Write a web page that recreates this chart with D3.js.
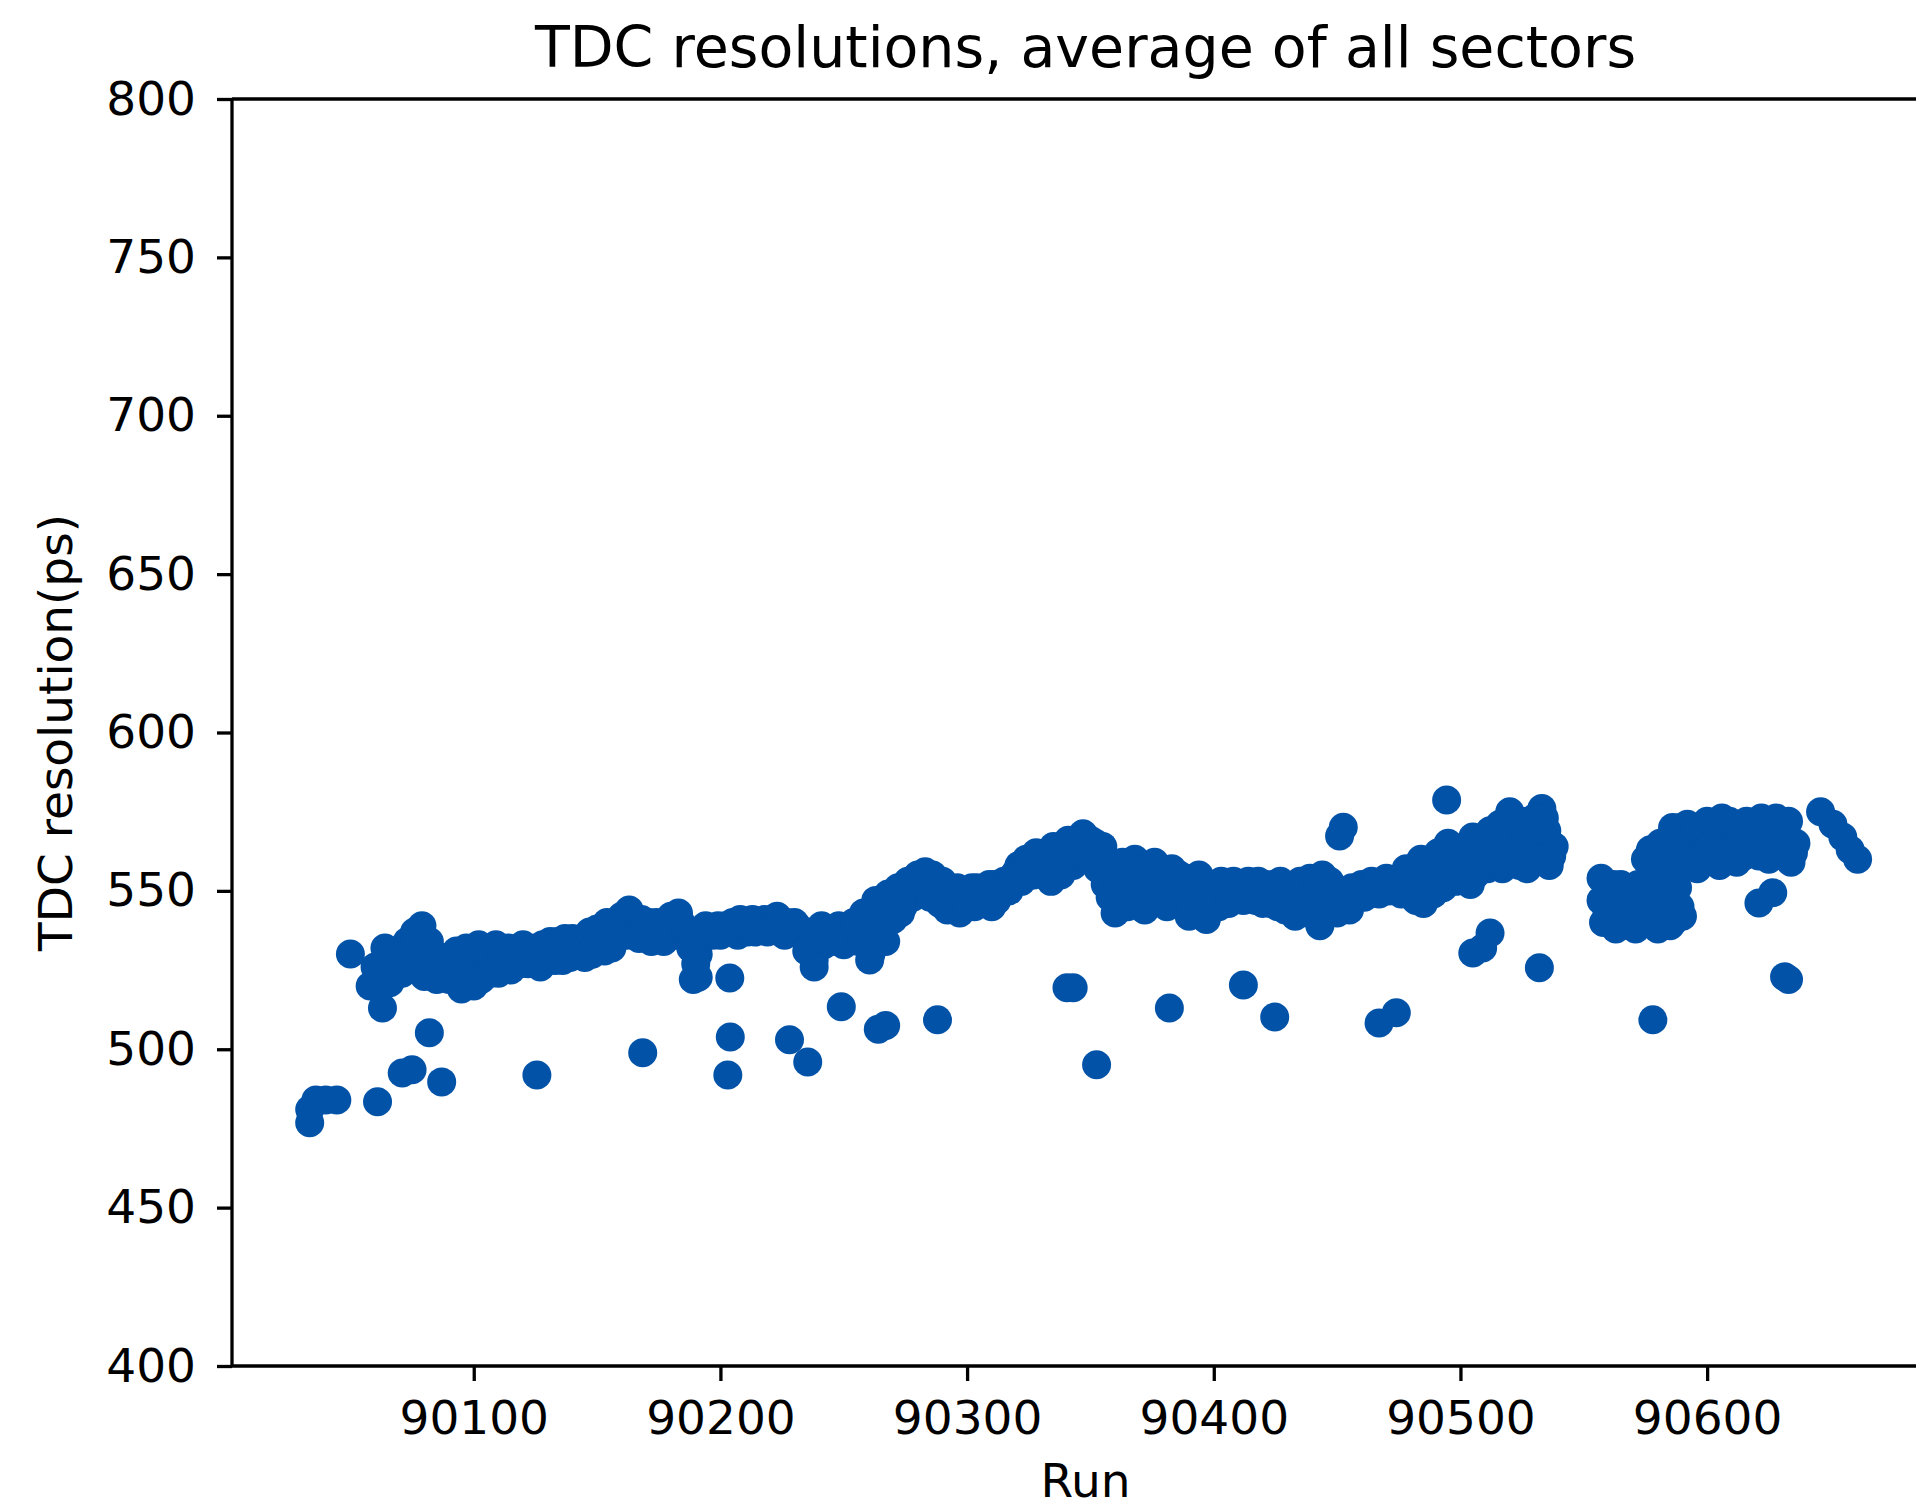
<!DOCTYPE html>
<html>
<head>
<meta charset="utf-8">
<script src="https://cdn.jsdelivr.net/npm/d3@7"></script>
<style>
  html, body { margin: 0; padding: 0; background: #fff; }
  svg { display: block; }
  text { font-family: "DejaVu Sans", sans-serif; fill: #000; }
</style>
</head>
<body>
<script>
// ---- data ----
const titleText = "TDC resolutions, average of all sectors";
const xLabelText = "Run";
const yLabelText = "TDC resolution(ps)";
const xTicks = [90100, 90200, 90300, 90400, 90500, 90600];
const yTicks = [400, 450, 500, 550, 600, 650, 700, 750, 800];
const xLimits = [90002, 90694];
const yLimits = [400, 800];

// main band (run, resolution)
const bandRuns = [
90058,90060,90063,90064,90066,90068,90069,90071,90073,90074,90076,90078,90079,90080,90082,90084,90085,90087,90089,90090,
90092,90093,90095,90097,90098,90100,90102,90104,90106,90109,90110,90112,90114,90116,90118,90120,90122,90124,90126,90128,
90130,90132,90134,90136,90138,90140,90142,90144,90146,90148,90150,90152,90154,90156,90158,90160,90162,90163,90165,90167,
90168,90170,90172,90174,90176,90178,90180,90182,90183,90185,90187,90189,90191,90193,90195,90197,90199,90201,90203,90205,
90207,90209,90211,90213,90215,90217,90219,90221,90223,90225,90227,90229,90231,90233,90236,90238,90240,90242,90244,90246,
90248,90250,90252,90254,90256,90258,90260,90261,90263,90264,90266,90267,90268,90270,90272,90274,90276,90278,90280,90281,
90283,90285,90287,90289,90291,90292,90294,90296,90297,90299,90301,90303,90304,90306,90308,90310,90311,90313,90315,90317,
90319,90321,90322,90324,90326,90328,90330,90332,90334,90335,90337,90339,90341,90343,90345,90347,90348,90350,90351,90353,
90355,90356,90358,90359,90360,90362,90363,90365,90366,90368,90369,90371,90372,90374,90376,90377,90379,90381,90383,90385,
90387,90389,90390,90392,90394,90396,90397,90399,90401,90403,90405,90407,90409,90411,90413,90415,90417,90419,90421,90423,
90425,90427,90429,90431,90433,90435,90437,90439,90441,90443,90444,90446,90448,90450,90452,90454,90456,90458,90460,90462,
90464,90466,90468,90470,90472,90474,90476,90478,90480,90482,90484,90485,90487,90489,90491,90493,90495,90497,90498,90500,
90502,90504,90505,90507,90509,90511,90512,90514,90516,90517,90519,90520,90522,90524,90525,90527,90529,90531,90533,90534,
90535,90536,90538
];
const bandValues = [
520,526,513,532,521,528,531,524,534,529,537,526,539,523,534,530,522,527,529,522,
525,531,519,532,526,520,533,527,530,533,524,529,532,526,530,533,527,531,529,533,
528,531,534,528,532,535,530,533,536,530,538,533,540,532,537,542,536,544,539,535,
541,537,534,540,536,539,542,536,543,538,535,522,530,537,538,536,539,537,538,540,
536,539,537,541,538,540,537,541,542,538,540,537,539,536,534,528,538,533,537,535,
539,533,537,540,534,543,536,530,547,538,544,534,549,541,551,545,553,548,555,550,
556,548,553,546,550,544,548,551,543,547,549,545,551,547,550,545,552,549,553,550,
555,558,553,560,555,562,556,559,553,564,557,561,566,558,564,568,560,566,562,557,
564,552,548,556,543,550,559,545,553,560,547,556,544,552,559,547,554,545,557,550,
546,554,542,550,555,545,541,552,547,553,549,551,548,552,549,551,547,550,552,546,
549,553,544,550,542,553,547,554,544,539,555,548,551,543,549,546,551,548,552,550,
553,550,552,554,551,553,549,557,552,547,560,546,555,549,562,551,565,556,553,563,
558,552,567,560,564,557,569,562,571,557,566,575,569,558,572,557,570,567,576,573,
569,558,564
];

// additional runs inside the band (filling its edges)
const fillRuns = [
90067,90070,90077,90081,90086,90091,90096,90099,90103,90107,90111,90115,90119,90121,90125,90127,90131,90133,90137,90139,
90141,90145,90147,90149,90151,90153,90155,90157,90159,90161,90164,90166,90169,90171,90173,90175,90177,90179,90181,90184,
90186,90188,90190,90192,90194,90196,90198,90200,90202,90204,90206,90208,90210,90212,90214,90216,90218,90220,90222,90224,
90226,90228,90230,90232,90234,90235,90237,90239,90241,90243,90245,90247,90249,90251,90253,90255,90257,90259,90262,90265,
90269,90271,90273,90275,90277,90279,90282,90284,90286,90288,90290,90293,90295,90298,90300,90302,90305,90307,90309,90312,
90314,90316,90318,90320,90323,90325,90327,90329,90331,90333,90336,90338,90340,90342,90344,90346,90349,90352,90354,90357,
90361,90364,90367,90370,90373,90375,90378,90380,90382,90384,90386,90388,90391,90393,90395,90398,90400,90402,90404,90406,
90408,90410,90412,90414,90416,90418,90420,90422,90424,90426,90428,90430,90432,90434,90436,90438,90440,90442,90445,90447,
90449,90451,90453,90455,90457,90459,90461,90463,90465,90467,90469,90471,90473,90475,90477,90479,90481,90483,90486,90488,
90490,90492,90494,90496,90499,90501,90503,90506,90508,90510,90513,90515,90518,90521,90523,90526,90528,90530,90532,90537
];
const fillValues = [
531,525,535,528,524,528,523,531,522,524,532,525,527,531,532,526,534,528,535,529,
532,529,537,532,535,531,537,535,539,540,541,536,538,540,536,538,534,541,538,540,
537,532,527,536,539,537,538,536,539,537,538,541,538,540,537,539,541,538,539,540,
536,538,540,538,537,531,537,535,539,536,538,534,537,536,535,538,535,540,543,540,
545,548,543,549,551,552,553,551,555,549,553,547,545,549,545,551,549,546,552,547,
551,552,553,556,557,558,555,559,561,557,560,555,563,561,566,562,564,565,560,558,
554,548,557,551,557,549,556,550,553,546,555,549,546,553,548,544,550,545,551,546,
553,550,547,553,549,553,546,549,552,545,550,547,551,546,550,543,549,552,542,553,
547,545,550,544,549,551,548,551,552,549,551,550,553,551,553,555,550,556,553,558,
554,558,553,560,558,554,561,555,559,566,565,559,568,562,572,566,561,573,560,561
];

// late clusters and tail
const lateRuns = [
90557,90557,90558,90560,90561,90563,90565,90566,90568,90570,90571,90573,90575,90576,90578,90580,90582,90583,90585,90587,90588,90590,
90559,90562,90564,90567,90569,90572,90574,90577,90579,90581,90584,90586,90589,
90575,90578,90580,90582,90584,90586,90588,90590,90592,90594,90596,90598,90600,90602,90604,90606,90608,90610,90612,90614,90616,90618,
90620,90622,90624,90626,90628,90630,90632,90634,90636,
90577,90579,90581,90583,90585,90587,90589,90591,90593,90595,90597,90599,90601,90603,90605,90607,90609,90611,90613,90615,
90617,90619,90621,90623,90625,90627,90629,90631,90633,90635,
90646,90651,90655,90658,90661
];
const lateValues = [
554,547,540,550,543,538,552,546,541,549,538,544,551,540,547,538,543,549,539,546,551,542,
545,552,542,550,545,552,541,545,550,541,546,540,545,
560,558,562,556,565,570,559,568,571,563,557,566,572,560,568,573,563,570,559,566,572,562,
569,573,565,571,573,563,569,559,565,
563,556,565,560,567,563,570,562,567,569,561,569,564,571,558,566,572,564,569,561,
567,571,561,568,560,567,570,566,572,562,
575,571,567,563,560
];

// scattered low / isolated points
const outlierRuns = [
90033.5,90033.5,90036,90040,90044.5,90050,90061,90071,90075,90082,90087,90125.6,90168.5,90191,
90203.8,90204,90203,90228,90235.4,90238,90249,90260.5,90264,90267,90288,90340.5,90343,90352.5,
90382,90412,90424.7,90467,90474,90451,90452.5,90494.4,90505,90509,90512,90532,90578,90621,90626.6,90631.4,90633
];
const outlierValues = [
476.8,481,484,484,484,530.1,483.4,492.5,493.5,505.2,489.7,491.9,498.9,522.7,
522.5,503.9,491.9,503,496,526,513.4,528.2,506.3,507.5,509.3,519.4,519.4,495.1,
513,520.3,510.2,508.3,511.5,567.3,570.1,578.7,530.4,532,536.7,525.7,509.3,546.2,549.4,522.9,522
];

// ---- drawing ----
const W = 1916, H = 1507;
const L = 232, T = 99, B = 1366, R = 1939;
const dotColor = "#0252a8";

const svg = d3.select("body").append("svg").attr("width", W).attr("height", H);
svg.append("rect").attr("width", W).attr("height", H).attr("fill", "#fff");

const x = d3.scaleLinear().domain(xLimits).range([L, R]);
const y = d3.scaleLinear().domain(yLimits).range([B, T]);

const points = [];
bandRuns.forEach((r, i) => points.push([r, bandValues[i]]));
fillRuns.forEach((r, i) => points.push([r, fillValues[i]]));
lateRuns.forEach((r, i) => points.push([r, lateValues[i]]));
outlierRuns.forEach((r, i) => points.push([r, outlierValues[i]]));

svg.append("clipPath").attr("id", "clip")
  .append("rect").attr("x", L).attr("y", T).attr("width", R - L).attr("height", B - T);

svg.append("g").attr("clip-path", "url(#clip)")
  .selectAll("circle").data(points).join("circle")
  .attr("cx", d => x(d[0])).attr("cy", d => y(d[1]))
  .attr("r", 14.5).attr("fill", dotColor);

// axes
const fontSize = 47;
const xAxis = d3.axisBottom(x).tickValues(xTicks).tickSize(15).tickPadding(20).tickFormat(d3.format("d"));
const yAxis = d3.axisLeft(y).tickValues(yTicks).tickSize(15).tickPadding(21).tickFormat(d3.format("d"));

const gx = svg.append("g").attr("transform", `translate(0,${B})`).call(xAxis);
const gy = svg.append("g").attr("transform", `translate(${L},0)`).call(yAxis);
[gx, gy].forEach(g => {
  g.select(".domain").remove();
  g.selectAll(".tick line").attr("stroke", "#000").attr("stroke-width", 3.3);
  g.selectAll(".tick text").attr("font-size", fontSize).attr("font-family", "DejaVu Sans").attr("fill", "#000");
});

// spines
const sp = svg.append("g").attr("stroke", "#000").attr("stroke-width", 3.3).attr("fill", "none");
sp.append("line").attr("x1", L).attr("x2", L).attr("y1", T).attr("y2", B);
sp.append("line").attr("x1", L).attr("x2", R).attr("y1", B).attr("y2", B);
sp.append("line").attr("x1", L).attr("x2", R).attr("y1", T).attr("y2", T);
sp.append("line").attr("x1", R).attr("x2", R).attr("y1", T).attr("y2", B);

// title & labels
svg.append("text").attr("x", (L + R) / 2).attr("y", 67).attr("text-anchor", "middle")
  .attr("font-size", 57).text(titleText);
svg.append("text").attr("x", (L + R) / 2).attr("y", 1497).attr("text-anchor", "middle")
  .attr("font-size", fontSize).text(xLabelText);
svg.append("text").attr("transform", `translate(72,${(T + B) / 2}) rotate(-90)`)
  .attr("text-anchor", "middle").attr("font-size", fontSize).text(yLabelText);
</script>
</body>
</html>
